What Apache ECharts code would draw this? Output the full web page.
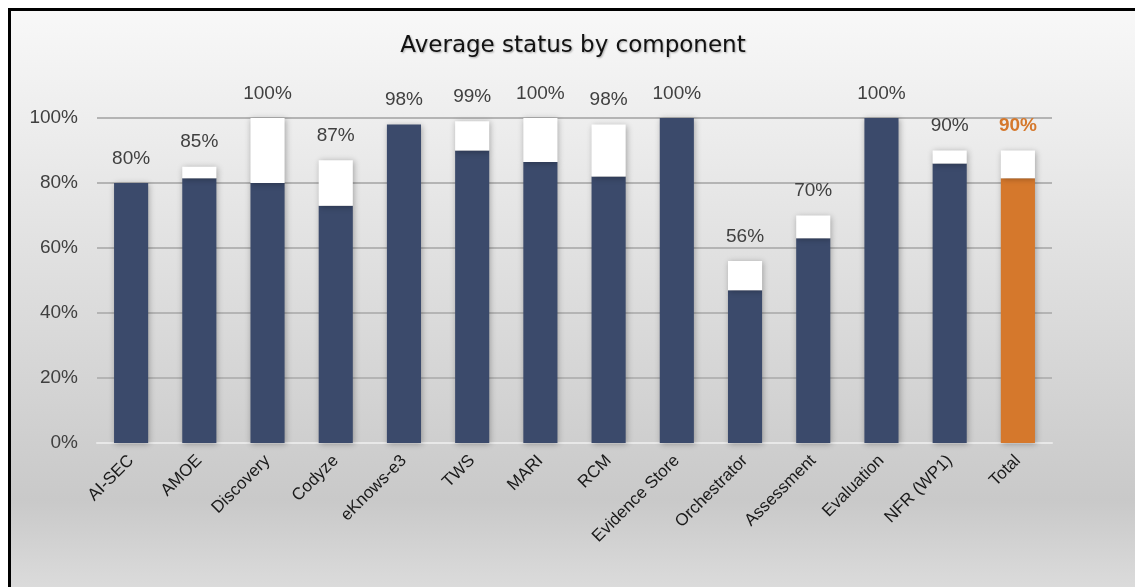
<!DOCTYPE html>
<html>
<head>
<meta charset="utf-8">
<script src="https://cdn.jsdelivr.net/npm/echarts@6/dist/echarts.min.js"></script>
<style>
    html, body { margin: 0; padding: 0; background: #fff; }
    #frame {
        position: absolute; left: 8px; top: 8px;
        width: 1130px; height: 590px;
        border-left: 3px solid #000; border-top: 3px solid #000;
        box-sizing: border-box;
    }
    #main { position: absolute; left: 11px; top: 11px; width: 1124px; height: 576px; }
</style>
</head>
<body>
<div id="frame"></div>
<div id="main"></div>
<script>
var categories = ["AI-SEC", "AMOE", "Discovery", "Codyze", "eKnows-e3", "TWS", "MARI", "RCM",
    "Evidence Store", "Orchestrator", "Assessment", "Evaluation", "NFR (WP1)", "Total"];
// dark part of each bar (%)
var doneValues = [80, 81.5, 80, 73, 98, 90, 86.5, 82, 100, 47, 63, 100, 86, 81.5];
// overall average shown on top (%)
var totalValues = [80, 85, 100, 87, 98, 99, 100, 98, 100, 56, 70, 100, 90, 90];
var yTicks = ["0%", "20%", "40%", "60%", "80%", "100%"];

var chart = echarts.init(document.getElementById('main'));

var navy = '#3B4A6B';
var orange = '#D5782C';
var lastIdx = categories.length - 1;

var doneData = doneValues.map(function (v, i) {
    return { value: v, itemStyle: { color: i == lastIdx ? orange : navy } };
});
var restData = totalValues.map(function (v, i) {
    return {
        value: Math.max(0, +(v - doneValues[i]).toFixed(2)),
        label: i == lastIdx ? { color: orange, fontWeight: 'bold' } : {}
    };
});

var shadow = {
    shadowBlur: 6,
    shadowColor: 'rgba(0,0,0,0.3)',
    shadowOffsetX: 1,
    shadowOffsetY: 1
};

var option = {
    animation: false,
    backgroundColor: {
        type: 'linear', x: 0, y: 0, x2: 0, y2: 1,
        colorStops: [
            { offset: 0, color: '#f8f8f8' },
            { offset: 0.85, color: '#c9c9c9' },
            { offset: 1, color: '#dbdbdb' }
        ]
    },
    title: {
        text: 'Average status by component',
        left: 'center',
        top: 19,
        textStyle: {
            fontFamily: 'DejaVu Sans',
            fontSize: 23,
            fontWeight: 'normal',
            color: '#111',
            textShadowColor: 'rgba(0,0,0,0.3)',
            textShadowBlur: 2,
            textShadowOffsetX: 1,
            textShadowOffsetY: 1
        }
    },
    grid: {
        left: 86,
        right: 83,
        top: 107,
        bottom: 144,
        containLabel: false
    },
    xAxis: {
        type: 'category',
        data: categories,
        axisLine: { show: true, lineStyle: { color: '#e8e8e8', width: 2 } },
        axisTick: { show: false },
        axisLabel: {
            rotate: 45,
            interval: 0,
            margin: 15,
            fontFamily: 'Liberation Sans',
            fontSize: 17,
            color: '#1a1a1a'
        }
    },
    yAxis: {
        type: 'value',
        min: 0,
        max: 100,
        interval: 20,
        axisLine: { show: false },
        axisTick: { show: false },
        splitLine: { lineStyle: { color: '#b4b4b4', width: 2 } },
        axisLabel: {
            margin: 19,
            fontFamily: 'Liberation Sans',
            fontSize: 19,
            color: '#404040',
            formatter: function (v) { return yTicks[Math.round(v / 20)]; }
        }
    },
    series: [
        {
            name: 'done',
            type: 'bar',
            stack: 'status',
            barWidth: '50%',
            data: doneData,
            itemStyle: shadow
        },
        {
            name: 'rest',
            type: 'bar',
            stack: 'status',
            data: restData,
            itemStyle: Object.assign({ color: '#ffffff' }, shadow),
            label: {
                show: true,
                position: 'top',
                distance: 15,
                fontFamily: 'Liberation Sans',
                fontSize: 19,
                color: '#404040',
                formatter: function (p) { return totalValues[p.dataIndex] + '%'; }
            }
        }
    ]
};
chart.setOption(option);
</script>
</body>
</html>
